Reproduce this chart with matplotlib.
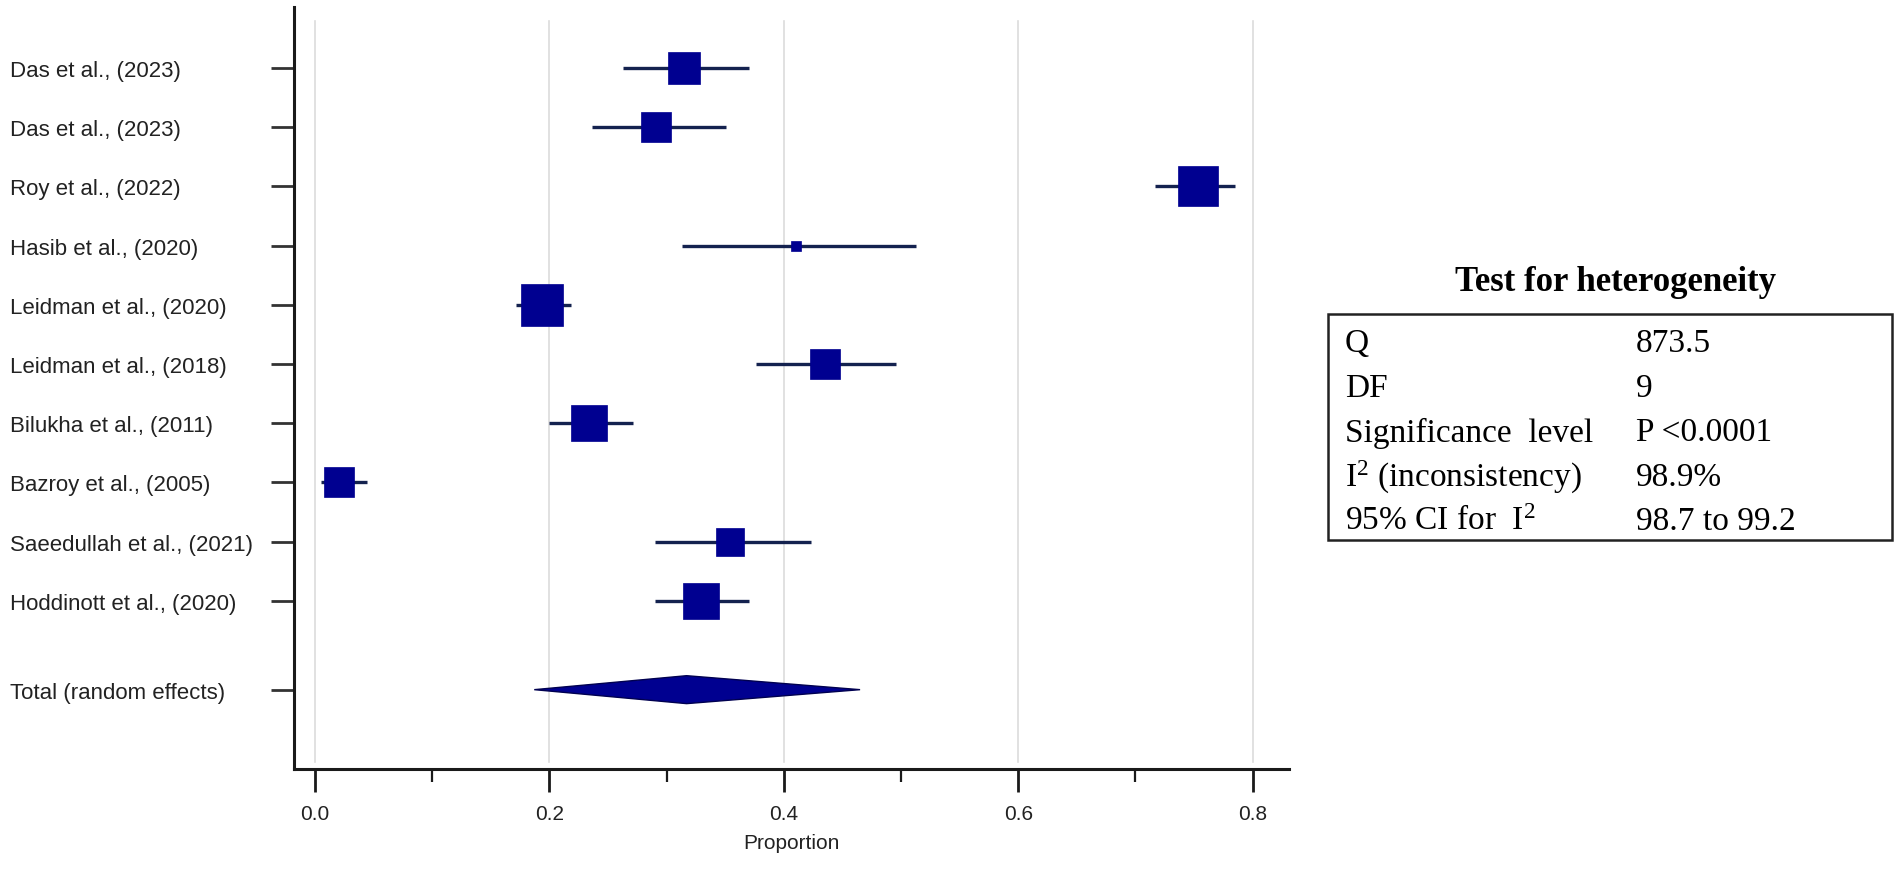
import numpy as np
import matplotlib.pyplot as plt
from matplotlib.patches import Polygon, Rectangle

# Studien und Werte
studies = ['Das et al., (2023)', 'Das et al., (2023)', 'Roy et al., (2022)',
           'Hasib et al., (2020)', 'Leidman et al., (2020)', 'Leidman et al., (2018)',
           'Bilukha et al., (2011)', 'Bazroy et al., (2005)', 'Saeedullah et al., (2021)',
           'Hoddinott et al., (2020)']
estimate = [0.315, 0.291, 0.753, 0.410, 0.194, 0.435, 0.234, 0.020, 0.354, 0.329]
ci_low = [0.263, 0.236, 0.717, 0.313, 0.171, 0.376, 0.200, 0.005, 0.290, 0.290]
ci_high = [0.370, 0.351, 0.785, 0.513, 0.218, 0.496, 0.271, 0.044, 0.423, 0.370]
weights = [10.1, 8.9, 14.9, 0.8, 16.4, 8.4, 12.7, 8.4, 6.8, 12.7]

total_label = 'Total (random effects)'
pooled = 0.317
pooled_low = 0.187
pooled_high = 0.465

# Test auf Heterogenitaet
stat_names = ['Q', 'DF', 'Significance  level', r'I$^{2}$ (inconsistency)', r'95% CI for  I$^{2}$']
stat_values = ['873.5', '9', 'P <0.0001', '98.9%', '98.7 to 99.2']

plt.rcParams['mathtext.fontset'] = 'custom'
plt.rcParams['mathtext.rm'] = 'Liberation Serif'
plt.rcParams['mathtext.it'] = 'Liberation Serif:italic'
plt.rcParams['mathtext.default'] = 'regular'

W, H = 1902, 870
fig = plt.figure(figsize=(W / 100, H / 100), dpi=100)
ax = fig.add_axes([294 / W, 1 - 770 / H, (1289 - 294) / W, (770 - 8) / H])

navy = '#000090'
line_col = '#14224f'
sans = ['Liberation Sans', 'DejaVu Sans']
serif = ['Liberation Serif', 'DejaVu Serif']

y = np.arange(len(studies))
y_total = len(studies) + 0.5

# Gitterlinien
for gx in [0.0, 0.2, 0.4, 0.6, 0.8]:
    ax.axvline(gx, ymin=0.009, ymax=0.982, color='#dcdcdc', lw=1.2, zorder=0)

# Konfidenzintervalle und Quadrate
ax.hlines(y, ci_low, ci_high, color=line_col, lw=2.4, zorder=2)
for yi, est, w in zip(y, estimate, weights):
    side_px = 10.37 * np.sqrt(w)
    ax.plot(est, yi, marker='s', ms=side_px * 0.72, color=navy,
            markeredgecolor=navy, mew=0.5, zorder=3)

# Gesamteffekt als Raute
h = 0.236
diamond = Polygon([(pooled_low, y_total), (pooled, y_total - h),
                   (pooled_high, y_total), (pooled, y_total + h)],
                  closed=True, facecolor=navy, edgecolor='#000050', lw=1.0, zorder=3)
ax.add_patch(diamond)

ax.set_xlim(-0.018, 0.831)
ax.set_ylim(11.84, -1.03)

ax.spines['top'].set_visible(False)
ax.spines['right'].set_visible(False)
for s in ['left', 'bottom']:
    ax.spines[s].set_linewidth(2.2)
    ax.spines[s].set_color('#1a1a1a')

ax.set_yticks(list(y) + [y_total])
ax.set_yticklabels(studies + [total_label], fontsize=16, family=sans, color='#222222')
for lab in ax.get_yticklabels():
    lab.set_ha('left')
ax.tick_params(axis='y', length=16.5, width=2.0, color='#333333', pad=188)

ax.set_xticks([0.0, 0.2, 0.4, 0.6, 0.8])
ax.set_xticklabels(['0.0', '0.2', '0.4', '0.6', '0.8'], fontsize=15, family=sans, color='#222222')
ax.set_xticks([0.1, 0.3, 0.5, 0.7], minor=True)
ax.tick_params(axis='x', which='major', length=16.5, width=2.0, color='#1a1a1a', pad=9)
ax.tick_params(axis='x', which='minor', length=9.5, width=1.6, color='#1a1a1a')
ax.set_xlabel('Proportion', fontsize=15, family=sans, color='#222222', labelpad=7)

# Tabelle rechts
def fx(px):
    return px / W

def fy(py):
    return 1 - py / H

fig.text(fx(1616), fy(283), 'Test for heterogeneity', fontsize=25, fontweight='bold',
         family=serif, ha='center', va='center')
fig.add_artist(Rectangle((fx(1328), fy(541)), fx(1892) - fx(1328), fy(315) - fy(541),
                         transform=fig.transFigure, fill=False, edgecolor='#222222', lw=1.8))
for i, (name, val) in enumerate(zip(stat_names, stat_values)):
    ry = 344 + 44.5 * i
    fig.text(fx(1345), fy(ry), name, fontsize=24, family=serif, ha='left', va='center')
    fig.text(fx(1636), fy(ry), val, fontsize=24, family=serif, ha='left', va='center')

fig.savefig('out.png', dpi=100)
